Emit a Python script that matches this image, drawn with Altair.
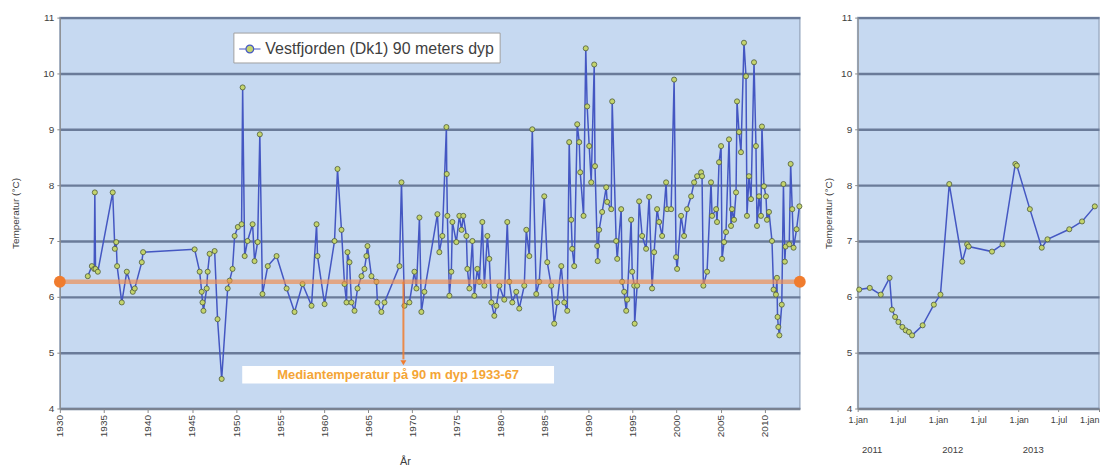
import altair as alt
import pandas as pd

# ---------------- data ----------------
main_year = [
    1933.17, 1933.63, 1933.9, 1933.97, 1934.05, 1934.31, 1936.0, 1936.24, 1936.4, 1936.5,
    1937.03, 1937.6, 1938.28, 1938.5, 1939.3, 1939.45, 1945.3, 1945.87, 1946.1, 1946.2,
    1946.3, 1946.67, 1946.78, 1947.0, 1947.57, 1947.9, 1948.37, 1949.05, 1949.27, 1949.6,
    1949.84, 1950.2, 1950.63, 1950.75, 1950.98, 1951.3, 1951.88, 1952.1, 1952.45, 1952.7,
    1953.0, 1953.6, 1954.6, 1955.74, 1956.64, 1957.55, 1958.57, 1959.14, 1959.25, 1960.05,
    1961.18, 1961.52, 1961.97, 1962.31, 1962.54, 1962.65, 1962.88, 1963.1, 1963.45, 1963.79,
    1964.24, 1964.58, 1964.8, 1964.92, 1965.37, 1965.94, 1966.05, 1966.5, 1966.85, 1968.55,
    1968.78, 1969.12, 1969.68, 1970.25, 1970.48, 1970.82, 1971.04, 1971.38, 1972.86, 1973.08,
    1973.42, 1973.88, 1973.92, 1973.99, 1974.22, 1974.44, 1974.56, 1975.01, 1975.35, 1975.6,
    1975.8, 1976.15, 1976.26, 1976.49, 1976.83, 1977.05, 1977.39, 1977.62, 1977.96, 1978.19,
    1978.53, 1978.75, 1978.98, 1979.32, 1979.55, 1979.89, 1980.45, 1980.79, 1981.02, 1981.36,
    1981.81, 1982.15, 1982.72, 1982.95, 1983.29, 1983.63, 1984.08, 1984.42, 1984.99, 1985.33,
    1985.78, 1986.12, 1986.46, 1986.92, 1987.26, 1987.6, 1987.82, 1988.05, 1988.16, 1988.39,
    1988.73, 1988.96, 1989.07, 1989.45, 1989.7, 1989.86, 1990.09, 1990.32, 1990.66, 1990.75,
    1991.0, 1991.05, 1991.22, 1991.56, 1992.02, 1992.13, 1992.59, 1992.7, 1993.15, 1993.27,
    1993.72, 1993.83, 1994.06, 1994.29, 1994.4, 1994.85, 1994.97, 1995.2, 1995.25, 1995.53,
    1995.76, 1996.1, 1996.55, 1996.89, 1997.23, 1997.46, 1997.8, 1998.03, 1998.37, 1998.82,
    1998.93, 1999.39, 1999.73, 1999.95, 2000.07, 2000.52, 2000.86, 2001.2, 2001.66, 2002.0,
    2002.34, 2002.79, 2002.9, 2003.05, 2003.47, 2003.92, 2004.04, 2004.5, 2004.6, 2004.83,
    2005.06, 2005.17, 2005.4, 2005.62, 2005.96, 2006.19, 2006.3, 2006.53, 2006.76, 2006.87,
    2007.1, 2007.32, 2007.66, 2007.89, 2008.0, 2008.23, 2008.46, 2008.8, 2009.02, 2009.14,
    2009.37, 2009.59, 2009.7, 2009.93, 2010.16, 2010.27, 2010.5, 2010.84, 2011.02, 2011.29,
    2011.4, 2011.47, 2011.56, 2011.68, 2011.95, 2012.14, 2012.3, 2012.38, 2012.8, 2012.96,
    2013.14, 2013.29, 2013.63, 2013.95,
]
main_temp = [
    6.37, 6.55, 6.5, 7.87, 6.5, 6.45, 7.87, 6.86, 6.98, 6.55,
    5.9, 6.45, 6.09, 6.15, 6.62, 6.8, 6.85, 6.45, 6.09, 5.9,
    5.75, 6.15, 6.45, 6.77, 6.82, 5.6, 4.53, 6.15, 6.29, 6.5,
    7.09, 7.25, 7.3, 9.75, 6.73, 7.0, 7.3, 6.64, 6.98, 8.91,
    6.05, 6.55, 6.73, 6.15, 5.73, 6.23, 5.84, 7.3, 6.73, 5.87,
    7.0, 8.29, 7.2, 6.23, 5.9, 6.8, 6.62, 5.9, 5.75, 6.15,
    6.37, 6.5, 6.73, 6.91, 6.37, 6.27, 5.9, 5.73, 5.9, 6.55,
    8.05, 5.84, 5.9, 6.45, 6.15, 7.42, 5.73, 6.09, 7.48, 6.8,
    7.09, 9.04, 8.2, 7.45, 6.02, 6.45, 7.34, 6.98, 7.45, 7.2,
    7.45, 7.09, 6.5, 6.15, 7.0, 6.02, 6.5, 6.27, 7.34, 6.2,
    7.09, 6.68, 5.9, 5.66, 5.84, 6.2, 5.95, 7.34, 6.27, 5.9,
    6.09, 5.79, 6.2, 7.2, 6.73, 9.0, 6.05, 6.27, 7.8, 6.62,
    6.2, 5.52, 5.9, 6.55, 5.9, 5.75, 8.77, 7.38, 6.86, 6.55,
    9.09, 8.77, 8.23, 7.45, 10.45, 9.41, 8.7, 8.05, 10.16, 8.34,
    6.91, 6.64, 7.2, 7.52, 7.96, 7.7, 7.57, 9.5, 7.0, 6.68,
    7.57, 6.27, 6.09, 5.75, 5.95, 7.38, 6.45, 6.2, 5.52, 6.2,
    7.71, 7.09, 6.86, 7.79, 6.15, 6.8, 7.57, 7.34, 7.09, 8.05,
    7.57, 7.57, 9.89, 6.71, 6.5, 7.45, 7.09, 7.57, 7.8, 8.05,
    8.16, 8.23, 8.16, 6.2, 6.45, 8.05, 7.45, 7.57, 7.34, 8.41,
    8.7, 6.68, 6.98, 7.16, 8.82, 7.27, 7.57, 7.38, 7.87, 9.5,
    8.95, 8.59, 10.55, 9.95, 7.45, 8.16, 7.75, 10.2, 8.7, 7.27,
    7.8, 7.45, 9.05, 7.98, 7.8, 7.38, 7.52, 7.0, 6.13, 6.04,
    6.34, 5.64, 5.46, 5.31, 5.86, 8.02, 6.63, 6.9, 6.94, 8.38,
    7.57, 6.88, 7.21, 7.62,
]

zoom_date = [
    "2011-01-08", "2011-02-25", "2011-04-16", "2011-05-26", "2011-06-06", "2011-06-20",
    "2011-07-05", "2011-07-23", "2011-08-07", "2011-08-22", "2011-09-05", "2011-10-23",
    "2011-12-13", "2012-01-12", "2012-02-21", "2012-04-20", "2012-05-12", "2012-05-19",
    "2012-09-02", "2012-10-20", "2012-12-17", "2012-12-24", "2013-02-21", "2013-04-16",
    "2013-05-12", "2013-08-19", "2013-10-16", "2013-12-13",
]
zoom_temp = [
    6.13, 6.16, 6.04, 6.34, 5.77, 5.64,
    5.55, 5.46, 5.40, 5.37, 5.31, 5.49,
    5.86, 6.04, 8.02, 6.63, 6.94, 6.90,
    6.81, 6.94, 8.38, 8.35, 7.57, 6.88,
    7.03, 7.21, 7.35, 7.62,
]

series_name = "Vestfjorden (Dk1) 90 meters dyp"
median_years = [1930, 2014]
median_temp = 6.27
arrow_year = 1969.0
arrow_tip = 4.82
note_text = "Mediantemperatur  på 90 m dyp 1933-67"
note_box = [1950.7, 1986.1, 4.45, 4.76]   # x, x2, y, y2 of the annotation box
y_ticks = [4, 5, 6, 7, 8, 9, 10, 11]
main_x_ticks = list(range(1930, 2011, 5))
zoom_tick_dates = ["2011-01-01", "2011-07-01", "2012-01-01", "2012-07-01",
                   "2013-01-01", "2013-07-01", "2014-01-01"]
year_labels = ["2011", "2012", "2013"]
year_label_dates = ["2011-03-08", "2012-03-08", "2013-03-08"]

# ---------------- style ----------------
FONT = "Liberation Sans"
BG = "#C6D9F1"
GRID = "#6A7B99"
LINE = "#4457C2"
PT_FILL = "#C4D46C"
PT_STROKE = "#4E5C3C"
ORANGE = "#F07C2E"
ORANGE_BAND = "#F08A4B"
NOTE_COL = "#F4A536"
TXT = "#404040"
AXC = "#8A8A8A"

W_MAIN, W_ZOOM, H = 742, 242, 392


def y_axis(title_pad):
    return alt.Axis(
        values=y_ticks,
        format="d",
        gridColor=GRID,
        gridWidth=2.4,
        tickSize=3,
        tickColor=AXC,
        domainColor=AXC,
        labelFontSize=10,
        labelColor=TXT,
        labelPadding=3,
        title="Temperatur (°C)",
        titleFontSize=10,
        titleFontWeight="normal",
        titleColor=TXT,
        titlePadding=title_pad,
    )


yscale = alt.Scale(domain=[4, 11], nice=False, zero=False)

# ---------------- main panel ----------------
df = pd.DataFrame({"year": main_year, "temp": main_temp, "serie": series_name})

x_main = alt.X(
    "year:Q",
    scale=alt.Scale(domain=[1930, 2014], nice=False, zero=False),
    axis=alt.Axis(
        values=main_x_ticks,
        format="d",
        labelAngle=270,
        labelFontSize=10,
        labelColor=TXT,
        labelFlush=False,
        tickSize=4,
        tickColor=AXC,
        domainColor=AXC,
        grid=False,
        title="År",
        titleFontSize=11,
        titleFontWeight="normal",
        titleColor=TXT,
        titleX=346,
        titleY=47,
        titleBaseline="top",
    ),
)
y_main = alt.Y("temp:Q", scale=yscale, axis=y_axis(22))

legend_symbol = (
    "M-1,0H-0.36M0.36,0H1"
    "M0.36,0A0.36,0.36,0,1,1,-0.36,0A0.36,0.36,0,1,1,0.36,0Z"
)

line = alt.Chart(df).mark_line(color=LINE, strokeWidth=1.5).encode(x=x_main, y=y_main)
points = alt.Chart(df).mark_point(
    filled=True, size=26, stroke=PT_STROKE, strokeWidth=0.8, opacity=1
).encode(
    x="year:Q",
    y="temp:Q",
    color=alt.Color(
        "serie:N",
        scale=alt.Scale(range=[PT_FILL]),
        legend=alt.Legend(
            title=None,
            orient="none",
            legendX=174,
            legendY=15,
            fillColor="white",
            strokeColor="#A0A0A0",
            padding=5,
            labelFontSize=16,
            labelLimit=0,
            labelColor=TXT,
            labelFont=FONT,
            labelOffset=4,
            symbolType=legend_symbol,
            symbolSize=460,
            symbolStrokeColor=LINE,
            symbolStrokeWidth=1.2,
            symbolFillColor=PT_FILL,
            symbolOpacity=1,
        ),
    ),
)

med_df = pd.DataFrame({"year": median_years, "temp": [median_temp] * len(median_years)})
med_line = alt.Chart(med_df).mark_line(color=ORANGE_BAND, strokeWidth=4.5, opacity=0.65).encode(
    x="year:Q", y="temp:Q"
)
med_dots = alt.Chart(med_df).mark_point(filled=True, size=140, color=ORANGE, opacity=1).encode(
    x="year:Q", y="temp:Q"
)

arrow_df = pd.DataFrame({"year": [arrow_year], "y1": [median_temp], "y2": [arrow_tip + 0.06], "tip": [arrow_tip]})
arrow_rule = alt.Chart(arrow_df).mark_rule(color=ORANGE, strokeWidth=2, opacity=0.85).encode(
    x="year:Q", y="y1:Q", y2="y2:Q"
)
arrow_head = alt.Chart(arrow_df).mark_point(
    shape="triangle-down", filled=True, size=35, color=ORANGE, opacity=1
).encode(x="year:Q", y="tip:Q")

note_df = pd.DataFrame(
    {"x": [note_box[0]], "x2": [note_box[1]], "y": [note_box[2]], "y2": [note_box[3]],
     "xm": [(note_box[0] + note_box[1]) / 2], "ym": [(note_box[2] + note_box[3]) / 2],
     "label": [note_text]}
)
note_rect = alt.Chart(note_df).mark_rect(color="white", opacity=1).encode(
    x="x:Q", x2="x2:Q", y="y:Q", y2="y2:Q"
)
note_txt = alt.Chart(note_df).mark_text(
    color=NOTE_COL, fontSize=13, fontWeight="bold", font=FONT, align="center", baseline="middle"
).encode(x="xm:Q", y="ym:Q", text="label:N")

main = alt.layer(
    line, points, med_line, med_dots, arrow_rule, arrow_head, note_rect, note_txt
).properties(width=W_MAIN, height=H)

# ---------------- zoom panel ----------------
zdf = pd.DataFrame({"date": zoom_date, "temp": zoom_temp})

tick_dt = []
for d in zoom_tick_dates:
    yy, mm, dd = (int(v) for v in d.split("-"))
    tick_dt.append(alt.DateTime(year=yy, month=mm, date=dd))

x_zoom = alt.X(
    "date:T",
    scale=alt.Scale(domain=[tick_dt[0], tick_dt[-1]], nice=False),
    axis=alt.Axis(
        values=tick_dt,
        labelExpr="month(datum.value) == 0 ? '1.jan' : '1.jul'",
        labelOverlap=False,
        labelFlush=False,
        labelAlign={"condition": {"test": "year(datum.value) >= 2014", "value": "right"}, "value": "center"},
        labelAngle=0,
        labelFontSize=9,
        labelColor=TXT,
        labelPadding=4,
        tickSize=3,
        tickColor=AXC,
        domainColor=AXC,
        grid=False,
        title=None,
    ),
)
y_zoom = alt.Y("temp:Q", scale=yscale, axis=y_axis(7))

zline = alt.Chart(zdf).mark_line(color=LINE, strokeWidth=1.5).encode(x=x_zoom, y=y_zoom)
zpts = alt.Chart(zdf).mark_point(
    filled=True, size=26, color=PT_FILL, stroke=PT_STROKE, strokeWidth=0.8, opacity=1
).encode(x="date:T", y="temp:Q")

ylab_df = pd.DataFrame({"date": year_label_dates, "label": year_labels})
ylab = alt.Chart(ylab_df).mark_text(
    fontSize=9.5, color=TXT, font=FONT, align="center", baseline="middle"
).encode(x="date:T", y=alt.value(H + 42), text="label:N")

zoom = alt.layer(zline, zpts, ylab).properties(width=W_ZOOM, height=H)

chart = (
    alt.hconcat(main, zoom, spacing=13)
    .resolve_scale(x="independent", y="independent", color="independent")
    .resolve_legend(color="independent")
    .properties(padding={"left": 2, "top": 3, "right": 0, "bottom": 0}, background="white")
    .configure(font=FONT)
    .configure_view(fill=BG, stroke="#9FAFC6", strokeWidth=1.5)
)

chart.save("out.html", embed_options={"renderer": "svg", "actions": False})
